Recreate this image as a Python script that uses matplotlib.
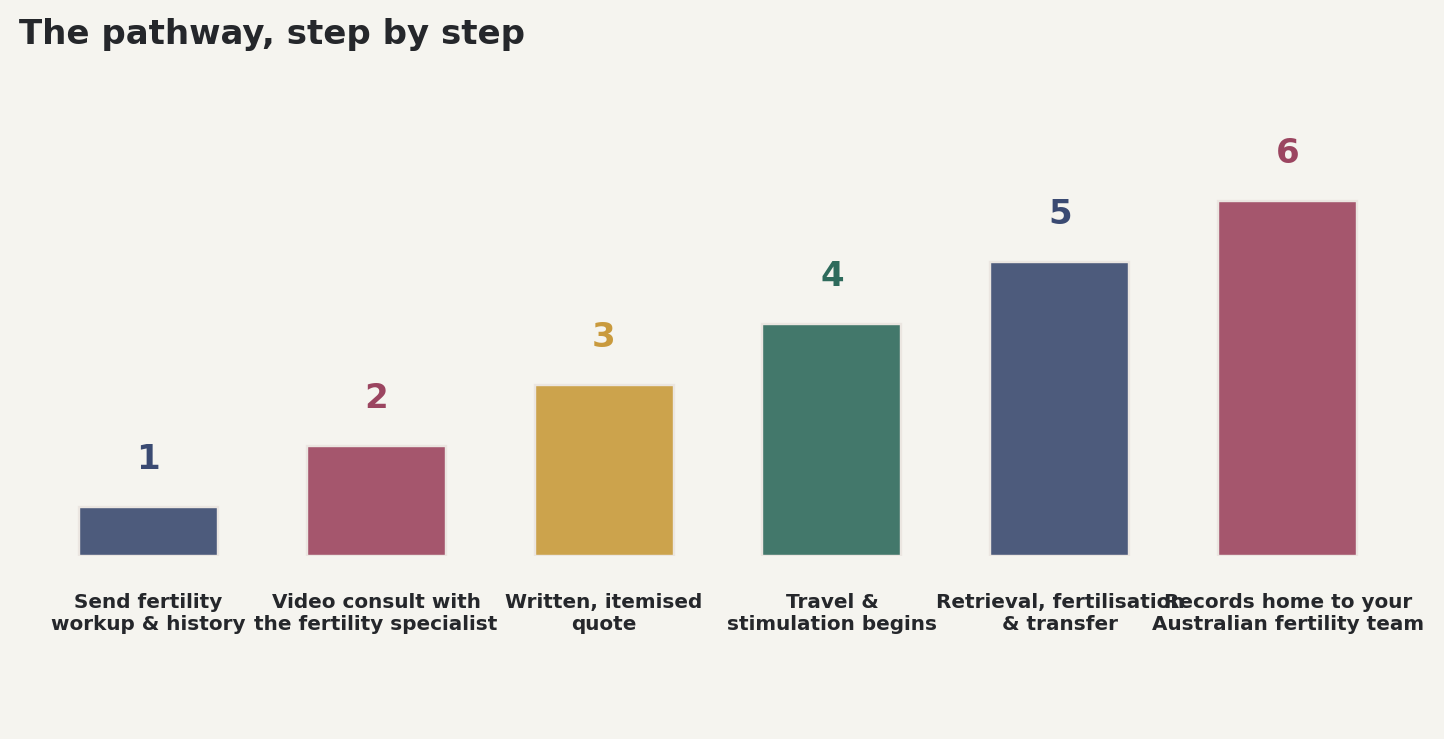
import matplotlib.pyplot as plt

# steps of the pathway
labels = ['Send fertility\nworkup & history',
          'Video consult with\nthe fertility specialist',
          'Written, itemised\nquote',
          'Travel &\nstimulation begins',
          'Retrieval, fertilisation\n& transfer',
          'Records home to your\nAustralian fertility team']
steps = [1, 2, 3, 4, 5, 6]
heights = [0.8, 1.8, 2.8, 3.8, 4.82, 5.82]

bar_colors = ['#4d5b7c', '#a5566d', '#cca34c', '#43786b', '#4d5b7c', '#a5566d']
num_colors = ['#3a4a72', '#9b4560', '#c99a3d', '#2e6b5c', '#3a4a72', '#9b4560']
bg = '#f5f4ef'

fig = plt.figure(figsize=(1444 / 144, 739 / 144), dpi=144, facecolor=bg)
ax = fig.add_axes([16 / 1444, 1 - 556 / 739, 1404 / 1444, 427 / 739])
ax.set_facecolor(bg)

x = list(range(len(steps)))
ax.bar(x, heights, width=0.61, color=bar_colors, edgecolor='#ebe6e1', linewidth=1.2)

for xi, h, s, c in zip(x, heights, steps, num_colors):
    ax.text(xi, h + 0.62, str(s), ha='center', va='baseline',
            fontsize=17, fontweight='bold', color=c)

ax.set_xlim(-0.58, 5.58)
ax.set_ylim(0, 7)
ax.set_xticks(x)
ax.set_xticklabels(labels, fontsize=10, fontweight='bold', color='#25272b')
ax.tick_params(axis='x', length=0, pad=18.5)
ax.set_yticks([])
for sp in ax.spines.values():
    sp.set_visible(False)

fig.text(19 / 1444, 1 - 18 / 739, 'The pathway, step by step', ha='left', va='top',
         fontsize=17, fontweight='bold', color='#25272b')

fig.savefig('out.png', dpi=144, facecolor=bg)
